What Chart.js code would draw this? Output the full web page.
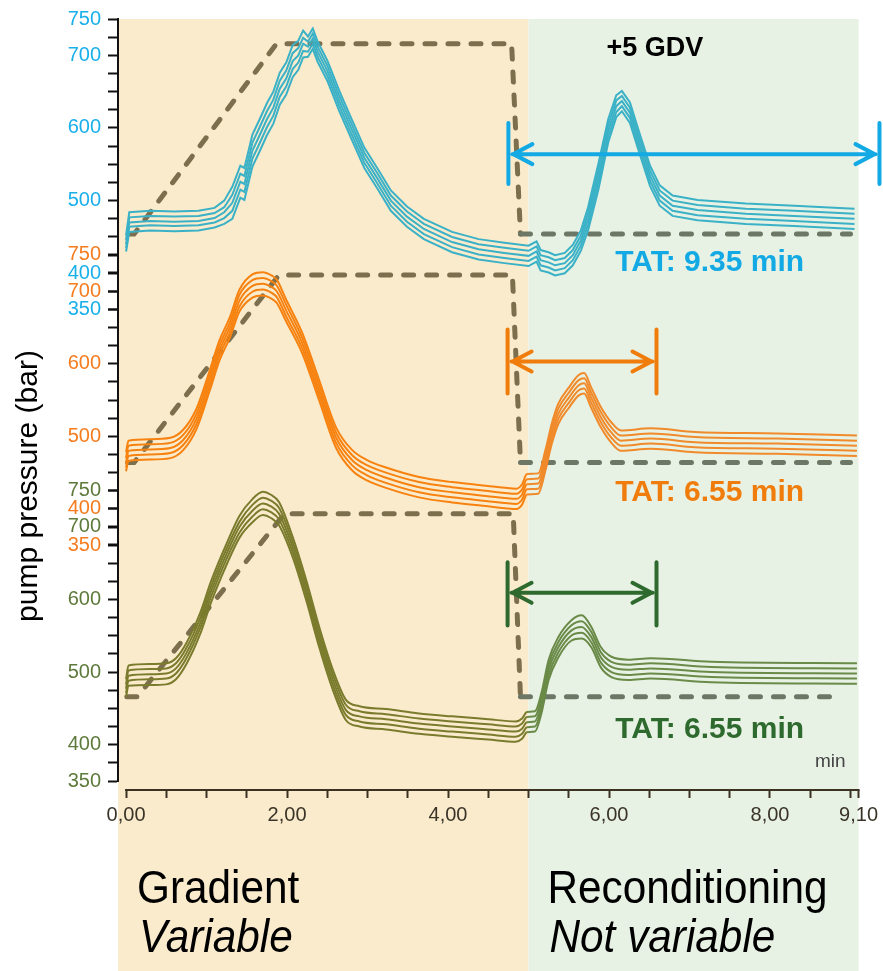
<!DOCTYPE html>
<html>
<head>
<meta charset="utf-8">
<title>Pump pressure traces</title>
<script src="https://cdn.jsdelivr.net/npm/chart.js@4.4.1/dist/chart.umd.min.js"></script>
<style>
  html, body { margin: 0; padding: 0; background: #fff; }
  canvas { display: block; }
</style>
</head>
<body>
<canvas id="chart" width="883" height="971"></canvas>
<script>
// ---- axes ----
const xTickValues = [0, 0.5, 1, 1.5, 2, 2.5, 3, 3.5, 4, 4.5, 5, 5.5, 6, 6.5, 7, 7.5, 8, 8.5, 9, 9.1];
const xLabelValues = [0, 2, 4, 6, 8, 9.1];
const yTickValues = [350, 375, 400, 425, 450, 475, 500, 525, 550, 575, 600, 625, 650, 675, 700, 725, 750];
const yLabelValues = [350, 400, 500, 600, 700, 750];
// each panel keeps 350..750 bar, the three panels overlap
const yMin = [-298.8, 25.6, 350];
const yMax = [750, 1074.4, 1398.8];
const xAxisLevel = 337.6; // on the green scale, just under its 350

// ---- phases ----
const phaseEdges = [-0.1, 5.0, 9.1];
const phaseNames = ['Gradient', 'Reconditioning'];
const phaseNotes = ['Variable', 'Not variable'];

// ---- top panel (blue) ----
const timesBlue = [0, 0.04, 0.3, 0.6, 0.9, 1.1, 1.22, 1.32, 1.42, 1.47, 1.57, 1.66, 1.75, 1.83, 1.91, 1.99, 2.07, 2.14, 2.2, 2.26,
  2.32, 2.38, 2.5, 2.65, 2.8, 2.96, 3.12, 3.29, 3.49, 3.7, 4.05, 4.38, 4.7, 5.0, 5.1, 5.15, 5.25, 5.33, 5.45, 5.55,
  5.65, 5.74, 5.87, 5.99, 6.09, 6.16, 6.26, 6.39, 6.51, 6.63, 6.79, 7.1, 7.7, 8.3, 9.05];
const blue1 = [452, 484, 486, 485, 486, 490, 500, 519, 548, 545, 591, 612, 634, 650, 676, 690, 714, 720, 734, 726,
  737, 719, 693, 651, 613, 573, 545, 514, 492, 475, 457, 447, 442, 438, 444, 432, 429, 425, 428, 439,
  459, 491, 552, 612, 645, 651, 635, 589, 548, 521, 507, 501, 496, 493, 489];
const blue2 = [446, 477, 479, 478, 479, 483, 491, 508, 537, 534, 580, 601, 623, 639, 665, 679, 703, 710, 724, 719,
  730, 712, 686, 644, 606, 566, 538, 507, 485, 468, 450, 440, 435, 431, 437, 425, 422, 418, 421, 432,
  452, 483, 543, 604, 638, 644, 628, 582, 541, 514, 500, 494, 489, 486, 482];
const blue3 = [440, 470, 472, 471, 472, 476, 484, 497, 526, 523, 569, 590, 612, 628, 654, 668, 692, 700, 716, 712,
  723, 705, 679, 637, 599, 559, 531, 500, 478, 461, 443, 433, 428, 424, 430, 418, 415, 411, 414, 425,
  445, 475, 534, 596, 630, 637, 621, 575, 534, 507, 493, 487, 482, 479, 475];
const blue4 = [435, 464, 466, 465, 466, 470, 476, 486, 515, 512, 558, 579, 601, 617, 643, 657, 681, 690, 706, 705,
  716, 698, 672, 630, 592, 552, 524, 493, 471, 454, 436, 426, 421, 417, 423, 411, 408, 404, 407, 418,
  438, 467, 525, 588, 622, 630, 614, 568, 527, 500, 486, 480, 475, 472, 468];
const blue5 = [430, 457, 459, 458, 459, 463, 468, 475, 504, 501, 547, 568, 590, 606, 632, 646, 670, 680, 697, 698,
  709, 691, 665, 623, 585, 545, 517, 486, 464, 447, 429, 419, 414, 410, 416, 404, 401, 397, 400, 411,
  431, 459, 516, 580, 615, 623, 607, 561, 520, 493, 479, 473, 468, 465, 461];
const gradTimesBlue = [0.04, 0.1, 1.87, 4.79, 4.9, 9.0];
const gradBlue = [454, 454, 716, 716, 454, 454];

// ---- middle panel (orange) ----
const timesOrange = [0, 0.03, 0.3, 0.55, 0.71, 0.875, 1.04, 1.16, 1.29, 1.41, 1.57, 1.7, 1.8, 1.87, 1.99, 2.19, 2.4, 2.61, 2.81, 3.0,
  3.23, 3.64, 4.05, 4.47, 4.85, 4.92, 4.98, 5.12, 5.21, 5.29, 5.37, 5.5, 5.62, 5.69, 5.78, 5.9, 6.03, 6.15, 6.52, 7.07,
  8.09, 9.08];
const orange1 = [478, 494, 496, 498, 509, 538, 591, 632, 664, 702, 723, 726, 722, 716, 688, 642, 577, 512, 481, 467,
  457, 444, 437, 432, 428, 434, 448, 449, 481, 518, 545, 567, 584, 587, 567, 540, 519, 508, 511, 506, 504, 501];
const orange2 = [470, 487, 489, 491, 502, 531, 584, 625, 657, 695, 715, 718, 714, 708, 681, 635, 570, 505, 474, 460,
  450, 437, 430, 425, 421, 427, 441, 442, 474, 511, 538, 560, 577, 580, 560, 533, 512, 501, 504, 499, 497, 494];
const orange3 = [463, 480, 482, 484, 495, 524, 577, 618, 650, 687, 707, 710, 706, 700, 673, 628, 563, 498, 467, 453,
  443, 430, 423, 418, 414, 420, 434, 435, 467, 504, 531, 553, 570, 573, 553, 526, 505, 494, 497, 492, 490, 487];
const orange4 = [457, 473, 475, 477, 488, 517, 570, 611, 643, 679, 699, 702, 698, 692, 665, 621, 556, 491, 460, 446,
  436, 423, 416, 411, 407, 413, 427, 428, 460, 497, 524, 546, 563, 566, 546, 519, 498, 487, 490, 485, 483, 480];
const orange5 = [452, 466, 468, 470, 481, 510, 563, 604, 636, 672, 691, 694, 690, 684, 658, 614, 549, 484, 453, 439,
  429, 416, 409, 404, 400, 406, 420, 421, 453, 490, 517, 539, 556, 559, 539, 512, 491, 480, 483, 478, 476, 473];
const gradTimesOrange = [0.02, 0.1, 1.9, 4.8, 4.9, 9.0];
const gradOrange = [464, 464, 722, 722, 464, 464];

// ---- bottom panel (green) ----
const timesGreen = [0, 0.03, 0.3, 0.5, 0.62, 0.75, 0.92, 1.06, 1.25, 1.41, 1.57, 1.7, 1.8, 1.9, 2.07, 2.24, 2.4, 2.57, 2.73, 2.9,
  3.23, 3.64, 4.05, 4.5, 4.84, 4.92, 4.98, 5.08, 5.16, 5.25, 5.37, 5.53, 5.66, 5.78, 5.9, 6.03, 6.24, 6.52, 7.27, 9.08];
const green1 = [490, 509, 511, 512, 519, 540, 581, 626, 677, 715, 738, 748, 744, 734, 686, 626, 562, 503, 462, 453,
  449, 443, 439, 435, 432, 436, 445, 446, 471, 517, 548, 571, 578, 562, 534, 521, 517, 519, 514, 512];
const green2 = [483, 502, 504, 505, 512, 533, 574, 619, 670, 707, 730, 740, 736, 726, 679, 619, 555, 496, 455, 446,
  442, 436, 432, 428, 425, 429, 438, 439, 464, 510, 541, 564, 570, 555, 527, 514, 510, 512, 507, 505];
const green3 = [477, 495, 497, 498, 505, 526, 567, 612, 663, 700, 722, 732, 728, 718, 672, 612, 548, 489, 448, 439,
  435, 429, 425, 421, 418, 422, 431, 432, 457, 503, 534, 557, 562, 548, 520, 507, 503, 505, 500, 498];
const green4 = [471, 488, 490, 491, 498, 519, 560, 605, 656, 692, 714, 724, 720, 710, 665, 605, 541, 482, 441, 432,
  428, 422, 418, 414, 411, 415, 424, 425, 450, 496, 527, 550, 554, 541, 513, 500, 496, 498, 493, 491];
const green5 = [466, 481, 482, 483, 490, 511, 552, 597, 648, 685, 706, 716, 712, 702, 658, 598, 534, 475, 434, 425,
  421, 415, 411, 407, 404, 408, 417, 418, 443, 489, 520, 543, 546, 534, 506, 493, 489, 491, 486, 484];
const gradTimesGreen = [0.01, 0.14, 1.97, 4.81, 4.9, 8.87];
const gradGreen = [466, 466, 718, 718, 466, 466];

// ---- turnaround arrows (x in min, y in each panel's bar) ----
const tatStart = [4.75, 4.74, 4.74];
const tatEnd = [9.36, 6.59, 6.59];
const tatLevel = [564, 603, 609];
const tatBarHigh = [607, 647, 651];
const tatBarLow = [523, 559, 564];
const tatLabels = ['TAT: 9.35 min', 'TAT: 6.55 min', 'TAT: 6.55 min'];
const tatLabelX = [7.25, 7.25, 7.25];
const tatLabelY = [415, 423, 420];

const FONT = "'Liberation Sans', Arial, Helvetica, sans-serif";
Chart.defaults.font.family = FONT;
const TICK_SIZE = 20;
const AXIS_DARK = '#3B3222';

const panels = [
  { axis: 'yBlue', times: timesBlue, traces: [blue1, blue2, blue3, blue4, blue5], gradTimes: gradTimesBlue, gradValues: gradBlue,
    left: '#3AB1C6', right: '#3AB1C6', smooth: false, tick: '#19B0EA', accent: '#13A9E4' },
  { axis: 'yOrange', times: timesOrange, traces: [orange1, orange2, orange3, orange4, orange5], gradTimes: gradTimesOrange, gradValues: gradOrange,
    left: '#F7820F', right: '#F08A2A', smooth: true, tick: '#F57C1F', accent: '#F07C0C' },
  { axis: 'yGreen', times: timesGreen, traces: [green1, green2, green3, green4, green5], gradTimes: gradTimesGreen, gradValues: gradGreen,
    left: '#7A7B2C', right: '#6A8A48', smooth: true, tick: '#5E7A3B', accent: '#2E6A2E' }
];

function pts(times, values) {
  return times.map((t, i) => ({ x: t, y: values[i] }));
}

const datasets = [];
panels.forEach(p => {
  p.traces.forEach(values => {
    datasets.push({
      data: pts(p.times, values),
      yAxisID: p.axis,
      borderColor: p.left,
      borderWidth: 2,
      pointRadius: 0,
      tension: p.smooth ? 0.4 : 0,
      cubicInterpolationMode: p.smooth ? 'monotone' : 'default',
      segment: { borderColor: c => (c.p0.parsed.x >= 4.95 ? p.right : p.left) },
      order: 0
    });
  });
  // gradient profile, dashed
  datasets.push({
    data: pts(p.gradTimes, p.gradValues),
    yAxisID: p.axis,
    borderColor: '#7B6F4E',
    borderWidth: 5,
    borderDash: [10, 13],
    borderCapStyle: 'round',
    pointRadius: 0,
    segment: { borderColor: c => (c.p0.parsed.x >= 4.85 ? '#6D7766' : '#7B6F4E') },
    order: 1
  });
});

// the blue axis takes the left margin; orange and green sit on the same line
// with zero width, their labels mirrored back out to the left
function yAxis(i, weight, width) {
  const stacked = width === 0;
  const labelWidth = 3 * 0.556 * TICK_SIZE;
  return {
    type: 'linear',
    axis: 'y',
    position: 'left',
    weight: weight,
    min: yMin[i],
    max: yMax[i],
    afterBuildTicks: s => { s.ticks = yTickValues.map(v => ({ value: v })); },
    afterFit: s => { s.width = width; },
    grid: { drawOnChartArea: false, tickLength: 10, tickColor: '#111', tickWidth: 2 },
    border: { color: '#111', width: 2 },
    ticks: {
      autoSkip: false,
      mirror: stacked,
      crossAlign: stacked ? 'far' : 'near',
      padding: stacked ? -17 - labelWidth : 7,
      color: panels[i].tick,
      font: { size: TICK_SIZE },
      callback: v => (yLabelValues.includes(v) ? String(v) : '')
    }
  };
}

const phasePlugin = {
  id: 'phases',
  beforeDraw(chart) {
    const { ctx, chartArea } = chart;
    const x = chart.scales.x;
    const colors = ['#FAEBCD', '#E7F2E4'];
    ctx.save();
    ctx.fillStyle = '#ffffff';
    ctx.fillRect(0, 0, chart.width, chart.height);
    for (let i = 0; i < phaseNames.length; i++) {
      const x0 = x.getPixelForValue(phaseEdges[i]);
      const x1 = x.getPixelForValue(phaseEdges[i + 1]);
      ctx.fillStyle = colors[i];
      ctx.fillRect(x0, chartArea.top, x1 - x0, chart.height - chartArea.top);
    }
    ctx.restore();
  },
  afterDraw(chart) {
    const { ctx } = chart;
    const x = chart.scales.x;
    ctx.save();
    // time axis line runs from 0 to the last tick only
    const yAxisPx = chart.scales.yGreen.getPixelForValue(xAxisLevel);
    ctx.strokeStyle = AXIS_DARK;
    ctx.lineWidth = 2;
    ctx.beginPath();
    ctx.moveTo(x.getPixelForValue(0) - 1, yAxisPx);
    ctx.lineTo(x.getPixelForValue(9.1) + 1, yAxisPx);
    ctx.stroke();

    ctx.fillStyle = '#000';
    ctx.textBaseline = 'alphabetic';
    ctx.textAlign = 'left';
    for (let i = 0; i < phaseNames.length; i++) {
      const x0 = x.getPixelForValue(phaseEdges[i]);
      ctx.save();
      ctx.translate(x0 + 19, 903);
      ctx.scale(0.92, 1);
      ctx.font = '46px ' + FONT;
      ctx.fillText(phaseNames[i], 0, 0);
      ctx.restore();
      ctx.save();
      ctx.translate(x0 + 21, 952);
      ctx.scale(0.92, 1);
      ctx.font = 'italic 46px ' + FONT;
      ctx.fillText(phaseNotes[i], 0, 0);
      ctx.restore();
    }
    ctx.restore();
  }
};

const notePlugin = {
  id: 'notes',
  afterDraw(chart) {
    const { ctx } = chart;
    const x = chart.scales.x;
    ctx.save();
    ctx.lineCap = 'round';
    ctx.lineJoin = 'round';
    panels.forEach((p, i) => {
      const y = chart.scales[p.axis];
      const xL = x.getPixelForValue(tatStart[i]);
      const xR = x.getPixelForValue(tatEnd[i]);
      const yM = y.getPixelForValue(tatLevel[i]);
      const yT = y.getPixelForValue(tatBarHigh[i]);
      const yB = y.getPixelForValue(tatBarLow[i]);
      ctx.strokeStyle = p.accent;
      ctx.lineWidth = 4;
      ctx.beginPath();
      ctx.moveTo(xL, yT); ctx.lineTo(xL, yB);
      ctx.moveTo(xR, yT); ctx.lineTo(xR, yB);
      ctx.moveTo(xL + 4, yM); ctx.lineTo(xR - 4, yM);
      ctx.moveTo(xL + 24, yM - 10); ctx.lineTo(xL + 5, yM); ctx.lineTo(xL + 24, yM + 10);
      ctx.moveTo(xR - 24, yM - 10); ctx.lineTo(xR - 5, yM); ctx.lineTo(xR - 24, yM + 10);
      ctx.stroke();

      ctx.fillStyle = p.accent;
      ctx.font = 'bold 30px ' + FONT;
      ctx.textAlign = 'center';
      ctx.textBaseline = 'middle';
      ctx.fillText(tatLabels[i], x.getPixelForValue(tatLabelX[i]), y.getPixelForValue(tatLabelY[i]));
    });

    const yb = chart.scales.yBlue;
    ctx.fillStyle = '#000';
    ctx.font = 'bold 27px ' + FONT;
    ctx.fillText('+5 GDV', x.getPixelForValue(6.57), yb.getPixelForValue(710));

    // x axis unit
    const yg = chart.scales.yGreen;
    ctx.fillStyle = '#444';
    ctx.font = '19px ' + FONT;
    ctx.textAlign = 'right';
    ctx.fillText('min', x.getPixelForValue(8.94), yg.getPixelForValue(376));

    // y axis title
    ctx.save();
    ctx.translate(29, 486);
    ctx.rotate(-Math.PI / 2);
    ctx.fillStyle = '#000';
    ctx.font = '30px ' + FONT;
    ctx.textAlign = 'center';
    ctx.textBaseline = 'middle';
    ctx.fillText('pump pressure (bar)', 0, 0);
    ctx.restore();
    ctx.restore();
  }
};

new Chart(document.getElementById('chart'), {
  type: 'line',
  data: { datasets: datasets },
  options: {
    responsive: false,
    animation: false,
    devicePixelRatio: 1,
    layout: { padding: { left: 0, top: 18, right: 21.7, bottom: 190 } },
    plugins: { legend: { display: false }, tooltip: { enabled: false } },
    elements: { point: { radius: 0 } },
    scales: {
      x: {
        type: 'linear',
        axis: 'x',
        position: { yGreen: xAxisLevel },
        min: -0.1,
        max: 9.1,
        afterBuildTicks: s => { s.ticks = xTickValues.map(v => ({ value: v })); },
        grid: { drawOnChartArea: false, tickLength: 8, tickColor: AXIS_DARK, tickWidth: 2 },
        border: { display: false },
        ticks: {
          autoSkip: false,
          maxRotation: 0,
          padding: 5,
          color: '#3A3428',
          font: { size: 20 },
          callback: v => (xLabelValues.includes(v) ? v.toFixed(2).replace('.', ',') : '')
        }
      },
      yBlue: yAxis(0, 2, 118),
      yOrange: yAxis(1, 1, 0),
      yGreen: yAxis(2, 0, 0)
    }
  },
  plugins: [phasePlugin, notePlugin]
});
</script>
</body>
</html>
